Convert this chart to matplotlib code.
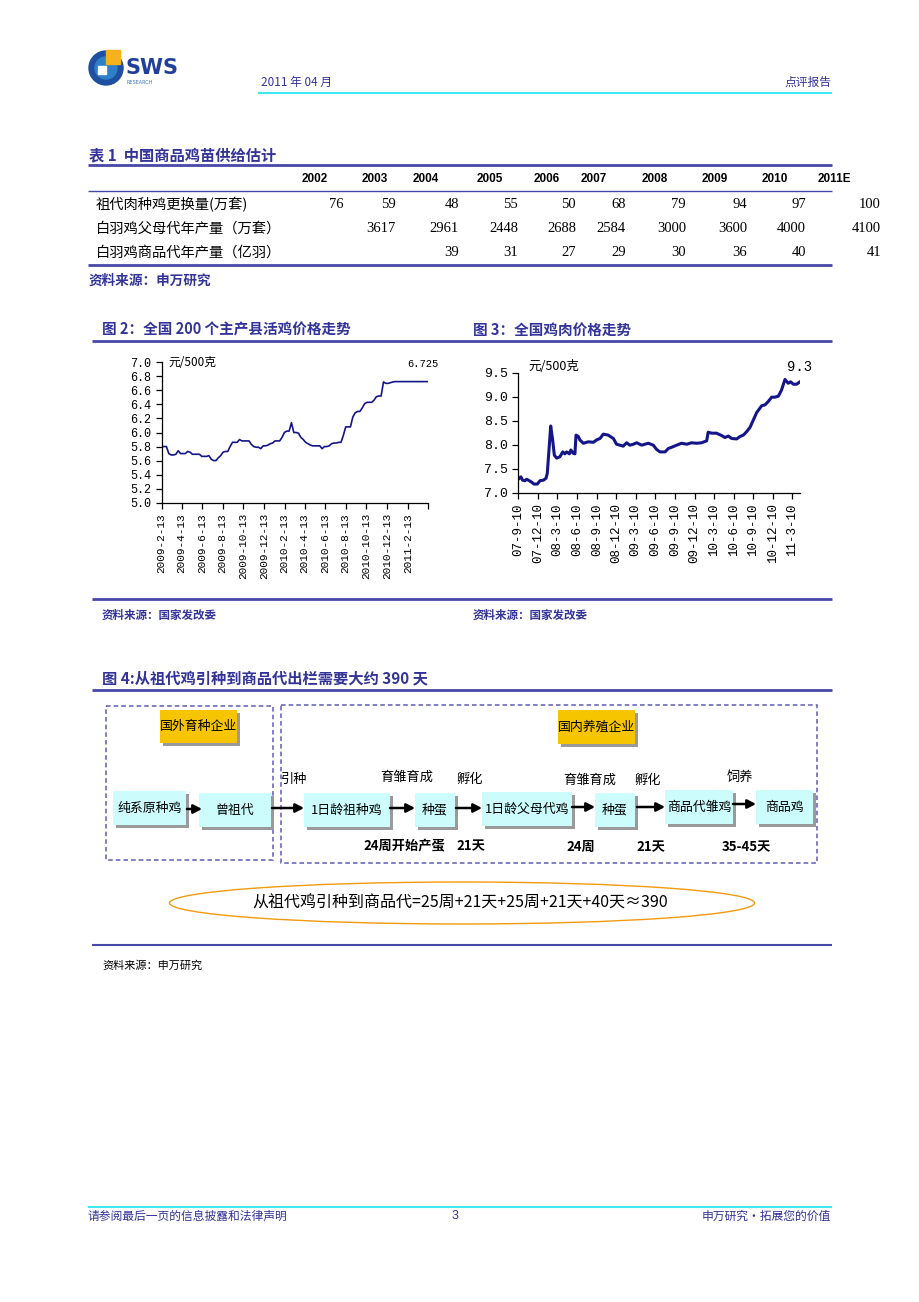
import matplotlib
matplotlib.use('Agg')
import matplotlib.pyplot as plt
from matplotlib.patches import Rectangle, Ellipse, Circle, FancyArrowPatch
import pandas as pd

# ---------------- data ----------------
table_years = ['2002', '2003', '2004', '2005', '2006', '2007', '2008', '2009', '2010', '2011E']
row_labels = ['祖代肉种鸡更换量(万套)', '白羽鸡父母代年产量（万套）', '白羽鸡商品代年产量（亿羽）']
gp_replacement = [76, 59, 48, 55, 50, 68, 79, 94, 97, 100]
parent_output = [None, 3617, 2961, 2448, 2688, 2584, 3000, 3600, 4000, 4100]
commercial_output = [None, None, 39, 31, 27, 29, 30, 36, 40, 41]

# Fig 2: weekly live chicken price (yuan / 500 g), starting 2009-02-13
fig2_start = '2009-02-13'
live_chicken_price = [
    5.80, 5.80, 5.80, 5.70, 5.68, 5.68, 5.69, 5.74, 5.70, 5.70,
    5.70, 5.73, 5.72, 5.69, 5.69, 5.69, 5.69, 5.66, 5.66, 5.66,
    5.67, 5.62, 5.60, 5.60, 5.64, 5.67, 5.72, 5.73, 5.73, 5.80,
    5.86, 5.86, 5.86, 5.90, 5.88, 5.88, 5.88, 5.88, 5.83, 5.80,
    5.79, 5.79, 5.77, 5.81, 5.81, 5.82, 5.84, 5.85, 5.88, 5.88,
    5.88, 5.93, 6.00, 6.02, 6.02, 6.14, 6.00, 6.00, 5.99, 5.93,
    5.90, 5.86, 5.84, 5.82, 5.81, 5.81, 5.81, 5.81, 5.77, 5.80,
    5.80, 5.81, 5.84, 5.85, 5.85, 5.86, 5.86, 5.96, 6.08, 6.08,
    6.08, 6.22, 6.28, 6.30, 6.30, 6.35, 6.41, 6.43, 6.43, 6.43,
    6.46, 6.51, 6.52, 6.52, 6.72, 6.70, 6.70, 6.71, 6.72, 6.725,
    6.725, 6.725, 6.725, 6.725, 6.725, 6.725, 6.725, 6.725, 6.725, 6.725,
    6.725, 6.725, 6.725, 6.725]
fig2_tick_dates = ['2009-02-13', '2009-04-13', '2009-06-13', '2009-08-13', '2009-10-13',
                   '2009-12-13', '2010-02-13', '2010-04-13', '2010-06-13', '2010-08-13',
                   '2010-10-13', '2010-12-13', '2011-02-13', '2011-04-13']
fig2_tick_labels = ['2009-2-13', '2009-4-13', '2009-6-13', '2009-8-13', '2009-10-13',
                    '2009-12-13', '2010-2-13', '2010-4-13', '2010-6-13', '2010-8-13',
                    '2010-10-13', '2010-12-13', '2011-2-13', '']
fig2_last_label = '6.725'

# Fig 3: chicken meat price (yuan / 500 g)
fig3_dates = [
    '2007-09-10', '2007-09-22', '2007-09-30', '2007-10-11', '2007-10-19', '2007-10-31',
    '2007-11-11', '2007-11-22', '2007-12-08', '2007-12-20', '2008-01-05', '2008-01-17',
    '2008-01-23', '2008-01-31', '2008-02-08', '2008-02-17', '2008-02-25', '2008-03-07',
    '2008-03-22', '2008-04-04', '2008-04-14', '2008-04-22', '2008-05-05', '2008-05-12',
    '2008-05-23', '2008-05-31', '2008-06-05', '2008-06-16', '2008-06-23', '2008-07-09',
    '2008-08-01', '2008-08-25', '2008-09-09', '2008-09-25', '2008-10-10', '2008-11-02',
    '2008-11-26', '2008-12-11', '2008-12-27', '2009-01-11', '2009-01-27', '2009-02-11',
    '2009-02-27', '2009-03-15', '2009-04-07', '2009-04-22', '2009-05-08', '2009-05-31',
    '2009-06-16', '2009-07-01', '2009-07-25', '2009-08-09', '2009-09-01', '2009-09-17',
    '2009-10-10', '2009-11-03', '2009-11-26', '2009-12-19', '2010-01-11', '2010-02-04',
    '2010-02-11', '2010-02-27', '2010-03-22', '2010-04-15', '2010-04-30', '2010-05-16',
    '2010-05-31', '2010-06-24', '2010-07-09', '2010-07-25', '2010-08-09', '2010-08-25',
    '2010-09-09', '2010-09-25', '2010-10-10', '2010-10-18', '2010-11-03', '2010-11-18',
    '2010-12-04', '2010-12-19', '2011-01-04', '2011-01-19', '2011-02-04', '2011-02-19',
    '2011-03-02', '2011-03-15', '2011-03-30', '2011-04-15']
chicken_meat_price = [
    7.28, 7.33, 7.26, 7.25, 7.28, 7.25, 7.22, 7.18, 7.18, 7.25,
    7.26, 7.30, 7.40, 7.89, 8.39, 8.10, 7.78, 7.72, 7.75, 7.85,
    7.81, 7.85, 7.81, 7.89, 7.82, 7.81, 8.20, 8.17, 8.10, 8.03,
    8.06, 8.05, 8.10, 8.13, 8.22, 8.20, 8.13, 8.01, 7.99, 7.97,
    8.04, 7.99, 8.01, 8.04, 7.99, 8.01, 8.03, 7.99, 7.90, 7.85,
    7.85, 7.92, 7.96, 7.99, 8.03, 8.01, 8.04, 8.03, 8.04, 8.08,
    8.26, 8.24, 8.24, 8.19, 8.15, 8.18, 8.13, 8.12, 8.17, 8.20,
    8.27, 8.36, 8.51, 8.67, 8.76, 8.81, 8.83, 8.90, 8.99, 8.99,
    9.01, 9.14, 9.36, 9.28, 9.31, 9.26, 9.26, 9.31]
fig3_tick_dates = ['2007-09-10', '2007-12-10', '2008-03-10', '2008-06-10', '2008-09-10',
                   '2008-12-10', '2009-03-10', '2009-06-10', '2009-09-10', '2009-12-10',
                   '2010-03-10', '2010-06-10', '2010-09-10', '2010-12-10', '2011-03-10']
fig3_tick_labels = ['07-9-10', '07-12-10', '08-3-10', '08-6-10', '08-9-10', '08-12-10',
                    '09-3-10', '09-6-10', '09-9-10', '09-12-10', '10-3-10', '10-6-10',
                    '10-9-10', '10-12-10', '11-3-10']
fig3_last_label = '9.3'

# ---------------- style ----------------
CJK = ['Noto Sans CJK SC', 'DejaVu Sans']
plt.rcParams['font.family'] = CJK
BLUE = '#333399'
LINEBLUE = '#4848a8'
NAVY = '#15158a'
TICKFONT = 'Liberation Mono'

W, H = 920, 1302
fig = plt.figure(figsize=(W / 100, H / 100), dpi=100)
page = fig.add_axes([0, 0, 1, 1])
page.set_xlim(0, W)
page.set_ylim(H, 0)
page.axis('off')


def txt(x, y, s, size=9, color='black', ha='left', va='center', weight='normal', family=CJK, **kw):
    page.text(x, y, s, fontsize=size, color=color, ha=ha, va=va, fontweight=weight,
              family=family, **kw)


def hline(y, x0=88, x1=832, color=LINEBLUE, lw=1.5):
    page.plot([x0, x1], [y, y], color=color, lw=lw, solid_capstyle='butt')


# ---------------- header ----------------
page.add_patch(Circle((106, 68), 17, color='#1e4fa0'))
page.add_patch(Circle((106, 68), 11, color='#2f7fc8'))
page.add_patch(Rectangle((98, 66), 8, 8, color='white'))
page.add_patch(Rectangle((106, 50), 14, 14, color='#f5b21a'))
txt(126, 68, 'SWS', size=15, color='#1f3f9a', weight='bold', family='DejaVu Sans')
txt(127, 82, 'RESEARCH', size=3.5, color='#3a6fc0', family='DejaVu Sans')
txt(261, 82, '2011 年 04 月', size=8.5, color=BLUE)
txt(831, 82, '点评报告', size=8.5, color=BLUE, ha='right')
hline(93, 258, 832, color='#3ee8f0', lw=1.5)

# ---------------- table ----------------
txt(89, 155, '表 1  中国商品鸡苗供给估计', size=11, color=BLUE, weight='bold')
hline(165, lw=2.0)
hline(191, lw=1.0)
hline(265, lw=2.0)
year_cx = [315, 375, 426, 490, 547, 594, 655, 715, 775, 834]
val_rx = [344, 396, 459, 518, 576, 626, 686, 747, 806, 881]
for cx, yr in zip(year_cx, table_years):
    txt(cx, 179, yr, size=8.5, ha='center', weight='bold', family='Liberation Sans')
row_y = [205, 229, 253]
for y, lab, row in zip(row_y, row_labels, [gp_replacement, parent_output, commercial_output]):
    txt(96, y, lab, size=10.3)
    for rx, v in zip(val_rx, row):
        if v is not None:
            txt(rx, y, str(v), size=10.5, ha='right', family='Liberation Serif')
txt(89, 281, '资料来源：申万研究', size=9.8, color=BLUE, weight='bold')

# ---------------- fig 2 / fig 3 titles ----------------
txt(102, 330, '图 2：全国 200 个主产县活鸡价格走势', size=10.5, color=BLUE, weight='bold')
txt(473, 330, '图 3：全国鸡肉价格走势', size=10.5, color=BLUE, weight='bold')
hline(341, 92, 832, lw=2.0)
hline(599, 92, 832, lw=2.0)
txt(102, 615, '资料来源：国家发改委', size=8.3, color=BLUE, weight='bold')
txt(473, 615, '资料来源：国家发改委', size=8.3, color=BLUE, weight='bold')


def px_axes(left, top, right, bottom):
    return fig.add_axes([left / W, 1 - bottom / H, (right - left) / W, (bottom - top) / H])


def style_ax(ax):
    for s in ['top', 'right']:
        ax.spines[s].set_visible(False)
    for s in ['left', 'bottom']:
        ax.spines[s].set_linewidth(0.9)
    ax.tick_params(direction='out', length=4, width=0.9, colors='black')
    ax.patch.set_alpha(0)


# Fig 2
ax2 = px_axes(161.7, 362.3, 428.3, 502.7)
dates2 = pd.date_range(fig2_start, periods=len(live_chicken_price), freq='7D')
ax2.plot(dates2, live_chicken_price, color=NAVY, lw=1.2)
ax2.set_ylim(5.0, 7.0)
ax2.set_xlim(dates2[0], dates2[-1])
y2ticks = [5.0, 5.2, 5.4, 5.6, 5.8, 6.0, 6.2, 6.4, 6.6, 6.8, 7.0]
ax2.set_yticks(y2ticks)
ax2.set_yticklabels(['%.1f' % v for v in y2ticks], family=TICKFONT, fontsize=8.5)
ax2.set_xticks(pd.to_datetime(fig2_tick_dates))
ax2.set_xticklabels(fig2_tick_labels, rotation=90, family=TICKFONT, fontsize=8)
style_ax(ax2)
ax2.text(0.025, 1.0, '元/500克', transform=ax2.transAxes, fontsize=8.5, va='center',
         ha='left', family=CJK)
txt(439, 364, fig2_last_label, size=7.5, ha='right', family=TICKFONT)

# Fig 3
ax3 = px_axes(518.3, 372.7, 800, 492.7)
dates3 = pd.to_datetime(fig3_dates)
ax3.plot(dates3, chicken_meat_price, color=NAVY, lw=2.2)
ax3.set_ylim(7.0, 9.5)
ax3.set_xlim(dates3[0], dates3[-1])
y3ticks = [7.0, 7.5, 8.0, 8.5, 9.0, 9.5]
ax3.set_yticks(y3ticks)
ax3.set_yticklabels(['%.1f' % v for v in y3ticks], family=TICKFONT, fontsize=9.5)
ax3.set_xticks(pd.to_datetime(fig3_tick_dates))
ax3.set_xticklabels(fig3_tick_labels, rotation=90, family=TICKFONT, fontsize=9)
style_ax(ax3)
ax3.text(0.035, 1.05, '元/500克', transform=ax3.transAxes, fontsize=9, va='center',
         ha='left', family=CJK)
txt(812, 367, fig3_last_label, size=10, ha='right', family=TICKFONT)

# ---------------- fig 4 diagram ----------------
txt(102, 678, '图 4:从祖代鸡引种到商品代出栏需要大约 390 天', size=11, color=BLUE, weight='bold')
hline(690, 92, 832, lw=2.0)

dash_col = '#5c5cb4'
page.add_patch(Rectangle((106, 706), 167, 154, fill=False, ec=dash_col, lw=1.1,
                         ls=(0, (3, 2))))
page.add_patch(Rectangle((281, 705), 536, 158, fill=False, ec=dash_col, lw=1.1,
                         ls=(0, (3, 2))))


def box(x0, y0, x1, y1, label, fc, size=9.3):
    page.add_patch(Rectangle((x0 + 3, y0 + 3), x1 - x0, y1 - y0, color='#9a9a9a', lw=0))
    page.add_patch(Rectangle((x0, y0), x1 - x0, y1 - y0, color=fc, lw=0))
    txt((x0 + x1) / 2, (y0 + y1) / 2, label, size=size, ha='center')


YEL = '#f7c400'
CYAN = '#ccfcfc'
box(160, 710, 237, 743, '国外育种企业', YEL, 9.3)
box(558, 710, 635, 744, '国内养殖企业', YEL, 9.3)
box(113, 791, 186, 825, '纯系原种鸡', CYAN)
box(199, 793, 271, 827, '曾祖代', CYAN)
box(304, 793, 390, 827, '1日龄祖种鸡', CYAN)
box(415, 793, 455, 827, '种蛋', CYAN)
box(482, 792, 572, 826, '1日龄父母代鸡', CYAN)
box(595, 793, 635, 827, '种蛋', CYAN)
box(665, 790, 733, 824, '商品代雏鸡', CYAN)
box(756, 790, 813, 824, '商品鸡', CYAN)


def arrow(x0, x1, y):
    page.add_patch(FancyArrowPatch((x0, y), (x1, y), arrowstyle='-|>,head_length=5,head_width=2.6',
                                   mutation_scale=1.0, color='black', lw=1.8,
                                   shrinkA=0, shrinkB=0))


arrow(187, 202, 809)
arrow(272, 304, 808)
arrow(390, 415, 808)
arrow(456, 482, 808)
arrow(572, 595, 807)
arrow(637, 665, 807)
arrow(733, 756, 804)

txt(294, 779, '引种', size=9.5, ha='center')
txt(407, 777, '育雏育成', size=9.5, ha='center')
txt(470, 779, '孵化', size=9.5, ha='center')
txt(590, 780, '育雏育成', size=9.5, ha='center')
txt(648, 780, '孵化', size=9.5, ha='center')
txt(740, 777, '饲养', size=9.5, ha='center')
txt(404, 846, '24周开始产蛋', size=9.5, ha='center', weight='bold')
txt(471, 846, '21天', size=9.5, ha='center', weight='bold')
txt(581, 847, '24周', size=9.5, ha='center', weight='bold')
txt(651, 847, '21天', size=9.5, ha='center', weight='bold')
txt(746, 847, '35-45天', size=9.5, ha='center', weight='bold')

page.add_patch(Ellipse((462, 903), 585, 42, fill=False, ec='#f29a10', lw=1.0))
txt(460, 903, '从祖代鸡引种到商品代=25周+21天+25周+21天+40天≈390', size=11.5, ha='center')

hline(945, 92, 832, lw=1.5)
txt(102, 966, '资料来源：申万研究', size=8, color='black')

# ---------------- footer ----------------
hline(1207, 88, 832, color='#3ee8f0', lw=1.5)
txt(88, 1216, '请参阅最后一页的信息披露和法律声明', size=8.5, color=BLUE)
txt(455, 1216, '3', size=9, color=BLUE, ha='center', family='Liberation Sans')
txt(831, 1216, '申万研究・拓展您的价值', size=8.5, color=BLUE, ha='right')

fig.savefig('out.png', dpi=100, facecolor='white')
